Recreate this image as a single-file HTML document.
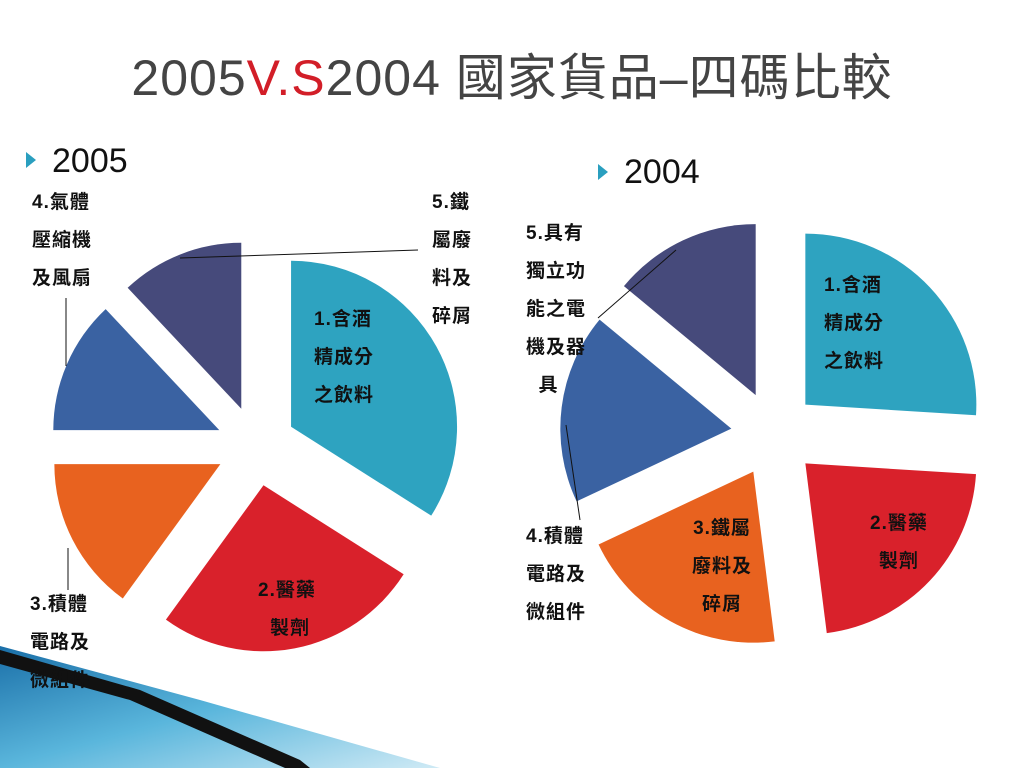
<!DOCTYPE html>
<html><head><meta charset="utf-8">
<style>
body{margin:0;width:1024px;height:768px;overflow:hidden;background:#fff;font-family:"Liberation Sans","Noto Sans CJK TC",sans-serif;position:relative}
.t{position:absolute;font-size:19px;line-height:38px;color:#111;letter-spacing:1px;font-weight:600}
</style></head><body>
<svg width="1024" height="768" style="position:absolute;left:0;top:0">
<defs><linearGradient id="g" x1="0" y1="0" x2="1" y2="1"><stop offset="0" stop-color="#1a6fa8"/><stop offset="0.5" stop-color="#5ab6dc"/><stop offset="1" stop-color="#cfeaf5"/></linearGradient></defs>
<polygon points="0,646 200,700 440,768 0,768" fill="url(#g)"/>
<polygon points="0,650 140,690 300,760 310,768 285,768 130,700 0,664" fill="#111"/>
<text x="512" y="95" text-anchor="middle" font-size="50" font-family="Liberation Sans, Noto Sans CJK TC, sans-serif" fill="#444" letter-spacing="1">2005<tspan fill="#d21e28">V.S</tspan>2004 國家貨品–四碼比較</text>
<polygon points="26,152 36,160 26,168" fill="#2a9fbf"/>
<text x="52" y="172" font-size="34" fill="#111" font-family="Liberation Sans, sans-serif">2005</text>
<polygon points="598,164 608,172 598,180" fill="#2a9fbf"/>
<text x="624" y="183" font-size="34" fill="#111" font-family="Liberation Sans, sans-serif">2004</text>
<g id="pies"></g>
<g stroke="#111" stroke-width="1" fill="none">
<line x1="418" y1="250" x2="180" y2="258"/>
<line x1="66" y1="298" x2="66" y2="366"/>
<line x1="68" y1="548" x2="68" y2="590"/>
<line x1="598" y1="318" x2="676" y2="250"/>
<line x1="580" y1="520" x2="566" y2="425"/>
</g>
</svg>
<div class="t" style="left:32px;top:184px">4.氣體<br>壓縮機<br>及風扇</div>
<div class="t" style="left:432px;top:184px">5.鐵<br>屬廢<br>料及<br>碎屑</div>
<div class="t" style="left:314px;top:301px">1.含酒<br>精成分<br>之飲料</div>
<div class="t" style="left:258px;top:572px;text-align:center">2.醫藥<br>&nbsp;製劑</div>
<div class="t" style="left:30px;top:586px">3.積體<br>電路及<br>微組件</div>
<div class="t" style="left:526px;top:215px">5.具有<br>獨立功<br>能之電<br>機及器<br>&nbsp;&nbsp;具</div>
<div class="t" style="left:824px;top:267px">1.含酒<br>精成分<br>之飲料</div>
<div class="t" style="left:870px;top:505px;text-align:center">2.醫藥<br>製劑</div>
<div class="t" style="left:692px;top:510px;text-align:center">3.鐵屬<br>廢料及<br>碎屑</div>
<div class="t" style="left:526px;top:518px">4.積體<br>電路及<br>微組件</div>
<script>
const categories=["beverage","pharma","ic","compressor-or-machine","scrap-or-machine"];
const values2005=[34,26,15,13,12];
const values2004=[26,22,20,18,14];
const colors=["#2ea3c0","#d9212b","#e8621f","#3a62a2","#464a7b"];
const NS="http://www.w3.org/2000/svg";
const g=document.getElementById("pies");
function pie(vals,cx,cy,r,off,name){
  const tot=vals.reduce((a,b)=>a+b,0);let a0=0;
  vals.forEach((v,i)=>{
    const a1=a0+v/tot*Math.PI*2,m=(a0+a1)/2;
    const ox=cx+off*Math.sin(m),oy=cy-off*Math.cos(m);
    const p=a=>[ox+r*Math.sin(a),oy-r*Math.cos(a)];
    const s=p(a0),e=p(a1);
    const path=document.createElementNS(NS,"path");
    path.setAttribute("d",`M${ox},${oy}L${s[0]},${s[1]}A${r},${r} 0 ${a1-a0>Math.PI?1:0} 1 ${e[0]},${e[1]}Z`);
    path.setAttribute("fill",colors[i]);
    
    
    g.appendChild(path);a0=a1;
  });
}
pie(values2005,256,446,166,40,"pie-2005");
pie(values2004,774,434,171,43,"pie-2004");
</script>
</body></html>
